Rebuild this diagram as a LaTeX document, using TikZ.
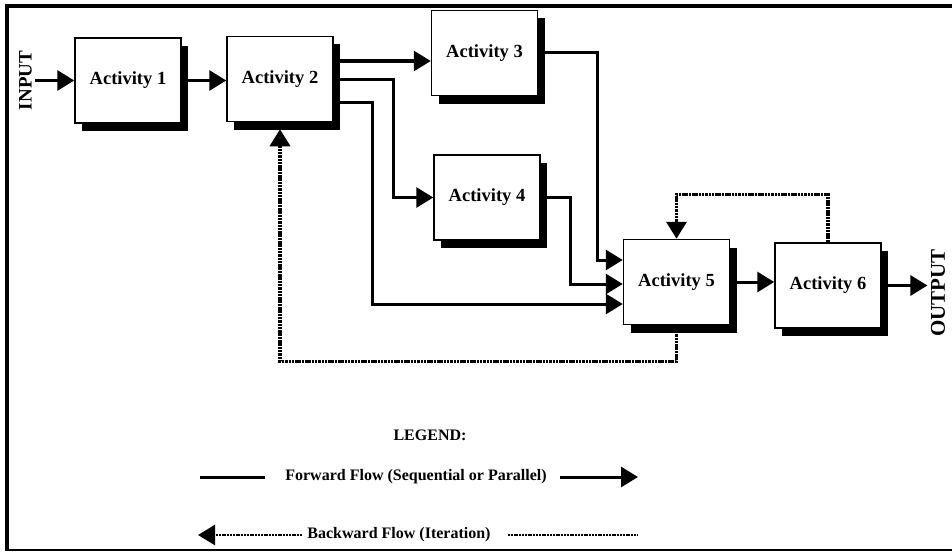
\documentclass[tikz,border=0pt]{standalone}
\usepackage{fontspec}
\setmainfont{Liberation Serif}
\usetikzlibrary{arrows.meta, shadows}
\tikzset{act/.style={draw, line width=1.5pt, fill=white, minimum width=106pt, minimum height=85pt,
    font=\fontsize{18.5}{20}\selectfont\bfseries,
    general shadow={fill=black, shadow xshift=7pt, shadow yshift=-8pt}},
  fwd/.style={line width=3pt, -{Triangle[length=17pt,width=20pt]}},
  back/.style={line width=3.5pt, dash pattern=on 2.5pt off 0.8pt, -{Triangle[length=17pt,width=20pt]}},
  legtext/.style={font=\fontsize{16}{18}\selectfont\bfseries},
}

\begin{document}
\begin{tikzpicture}[x=1pt, y=-1pt]
    \useasboundingbox (0,0) rectangle (952,551);
    %Frame:
    \draw[line width=4pt] (6.5,550) -- (6.5,6) -- (952,6);
    \draw[line width=1.5pt] (5,550) -- (952,550);
    %Activities:
    \node[act] (a1) at (128,80.5) {Activity 1};
    \node[act] (a2) at (280,79) {Activity 2};
    \node[act] (a3) at (484.5,53) {Activity 3};
    \node[act] (a4) at (487,197.5) {Activity 4};
    \node[act] (a5) at (676.5,282) {Activity 5};
    \node[act] (a6) at (828,285.5) {Activity 6};
    %Input and output:
    \node[rotate=90, font=\fontsize{19}{20}\selectfont\bfseries] (input) at (25.5,80.5) {INPUT};
    \node[rotate=90, font=\fontsize{21}{22}\selectfont\bfseries] (output) at (938,293) {OUTPUT};
    %Forward flow:
    \draw[fwd] (input.south) -- (a1.west);
    \draw[fwd] (a1.east) -- (a1.east -| a2.west);
    \draw[fwd] ([yshift=18pt]a2.east) -- ([yshift=18pt]a2.east -| a3.west);
    \draw[fwd] (a2.east) -- ++(60,0) |- (a4.west);
    \draw[fwd] ([yshift=-23pt]a2.east) -- ++(39,0) |- ([yshift=-22pt]a5.west);
    \draw[fwd] (a3.east) -- ++(59,0) |- ([yshift=22pt]a5.west);
    \draw[fwd] (a4.east) -- ++(30,0) |- ([yshift=-2pt]a5.west);
    \draw[fwd] (a5.east) -- (a5.east -| a6.west);
    \draw[fwd] (a6.east) -- (a6.east -| output.north);
    %Backward flow:
    \draw[back] (a6.north) -- ++(0,-48) -| (a5.north);
    \draw[back] ([yshift=-9pt]a5.south) -- ++(0,27) -| ([yshift=-7pt]a2.south);
    %Legend:
    \coordinate (fwdA) at (200,477);
    \coordinate (fwdB) at (265,477);
    \coordinate (fwdC) at (560,477);
    \coordinate (fwdD) at (638,477);
    \coordinate (backA) at (302,535);
    \coordinate (backB) at (198,535);
    \coordinate (backC) at (508,535);
    \coordinate (backD) at (638,535);
    \node[legtext] (legend) at (430,435) {LEGEND:};
    \node[legtext] (fwdtext) at (416,477) {Forward Flow (Sequential or Parallel)};
    \node[legtext] (backtext) at (399,535) {Backward Flow (Iteration)};
        \draw[line width=3pt] (fwdA) -- (fwdB);
        \draw[fwd] (fwdC) -- (fwdD);
        \draw[back, line width=2.5pt, dash pattern=on 2pt off 0.8pt] (backA) -- (backB);
        \draw[line width=2.5pt, dash pattern=on 2pt off 0.8pt] (backC) -- (backD);
\end{tikzpicture}
\end{document}
